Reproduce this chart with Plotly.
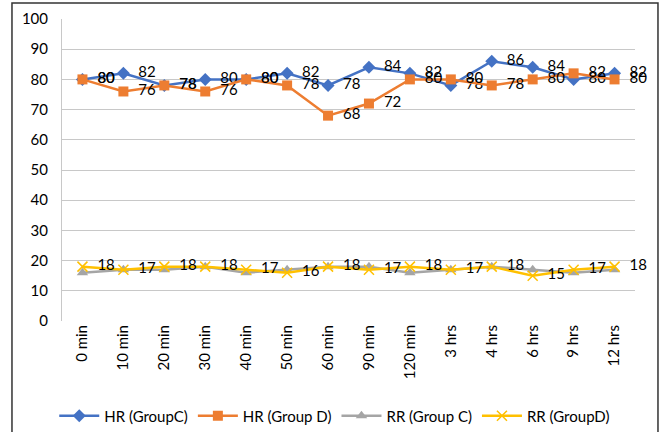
import plotly.graph_objects as go

categories = ["0 min", "10 min", "20 min", "30 min", "40 min", "50 min", "60 min",
              "90 min", "120 min", "3 hrs", "4 hrs", "6 hrs", "9 hrs", "12 hrs"]
hr_group_c = [80, 82, 78, 80, 80, 82, 78, 84, 82, 78, 86, 84, 80, 82]
hr_group_d = [80, 76, 78, 76, 80, 78, 68, 72, 80, 80, 78, 80, 82, 80]
rr_group_c = [16, 17, 17, 18, 16, 17, 18, 18, 16, 17, 18, 17, 16, 17]
rr_group_d = [18, 17, 18, 18, 17, 16, 18, 17, 18, 17, 18, 15, 17, 18]
y_ticks = list(range(0, 101, 10))

FONT = "Lato"
fig = go.Figure()

def add(name, y, color, symbol, size, labels=True):
    fig.add_trace(go.Scatter(
        x=categories, y=y, name=name, mode="lines+markers+text" if labels else "lines+markers",
        line=dict(color=color, width=2.5),
        marker=dict(symbol=symbol, size=size, color=color,
                    line=dict(color=color, width=1.5 if "x" in symbol else 0)),
        text=["  " + str(v) for v in y] if labels else None,
        textposition="middle right",
        textfont=dict(family=FONT, size=15, color="#000000"),
        cliponaxis=False,
    ))

add("HR (GroupC)", hr_group_c, "#4472C4", "diamond", 10)
add("HR (Group D)", hr_group_d, "#ED7D31", "square", 10)
add("RR (Group C)", rr_group_c, "#A5A5A5", "triangle-up", 10, labels=False)
add("RR (GroupD)", rr_group_d, "#FFC000", "x-thin", 10)

fig.update_layout(
    width=663, height=432,
    margin=dict(l=62, r=28, t=19, b=111, autoexpand=False),
    paper_bgcolor="white", plot_bgcolor="white",
    font=dict(family=FONT, size=15, color="#000000"),
    showlegend=True, hovermode=False,
    legend=dict(orientation="h", x=0.476, xanchor="center", y=-0.26, yanchor="top",
                font=dict(family=FONT, size=15, color="#000000"), itemwidth=40),
    xaxis=dict(type="category", categoryorder="array", categoryarray=categories,
               range=[-0.5, len(categories) - 0.5],
               tickangle=-90, showgrid=False, showline=False, zeroline=False,
               automargin=False,
               ticks="", tickfont=dict(family=FONT, size=15, color="#000000")),
    yaxis=dict(range=[0, 100], tickvals=y_ticks, showgrid=True, gridcolor="#C8C8C8",
               gridwidth=1, zeroline=False, showline=True, linecolor="#C8C8C8",
               automargin=False,
               ticks="", ticklabelstandoff=10,
               tickfont=dict(family=FONT, size=15, color="#000000")),
)

fig.add_shape(type="rect", xref="paper", yref="paper",
              x0=-0.0873, x1=1.0401, y0=-0.42, y1=1.053,
              line=dict(color="#333333", width=1.5), fillcolor="rgba(0,0,0,0)", layer="below")

fig.write_html("out.html", config={"displayModeBar": False},
               post_script="document.body.style.margin='0';")
